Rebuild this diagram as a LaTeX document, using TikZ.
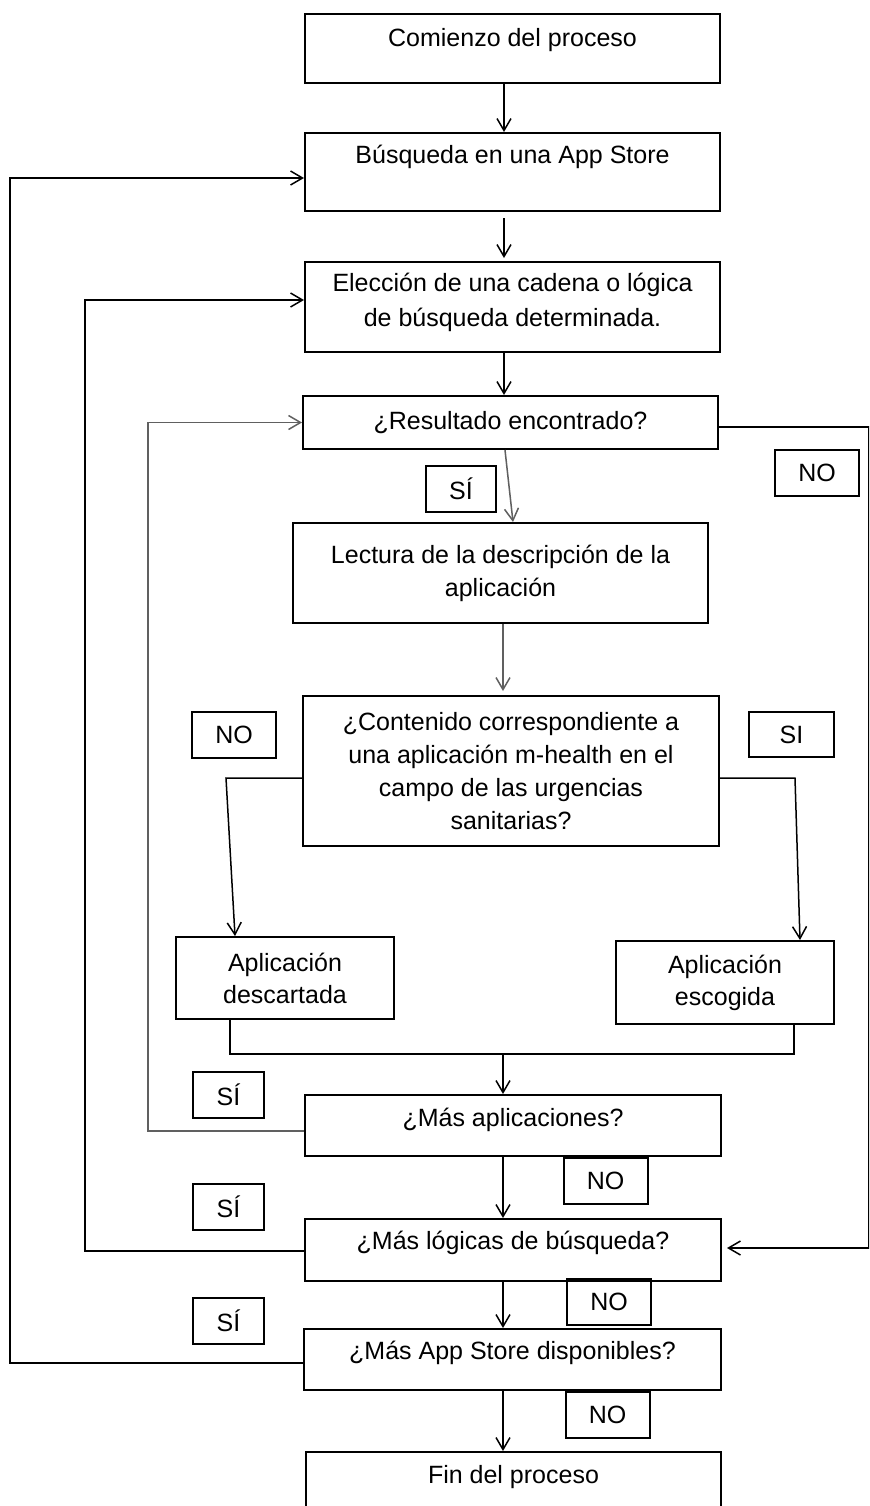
\documentclass[tikz,border=0pt]{standalone}
\usepackage{fontspec}
\setmainfont{Liberation Sans}
\usetikzlibrary{arrows.meta}
\begin{document}
\begin{tikzpicture}[x=0.5pt,y=-0.5pt,
	box/.style={draw,line width=1pt,minimum width=208pt,align=center,font=\fontsize{12.5}{16.5}\selectfont},
	tag/.style={draw,line width=1pt,minimum width=42pt,minimum height=23pt,inner sep=0pt,font=\fontsize{12.5}{15}\selectfont},
	link/.style={line width=0.75pt},
	arr/.style={link,-{Straight Barb[length=6pt,width=7pt]}},
	pale/.style={gray!75!black}]%DIAGRAMA DE BUSQUEDA
		\useasboundingbox (0,0) rectangle (869,1506);
		\clip (0,0) rectangle (869,1506);
		\node[box,minimum width=207.5pt,minimum height=34.5pt,text depth=11pt] (start) at (512.5,48.5) {Comienzo del proceso};
		\node[box,minimum width=207.5pt,minimum height=39pt,text depth=17.5pt] (search) at (512.5,172) {Búsqueda en una App Store};
		\node[box,minimum width=207.5pt,minimum height=45pt,text depth=7pt,font=\fontsize{12.5}{17.5}\selectfont] (choice) at (512.5,307) {Elección de una cadena o lógica\\de búsqueda determinada.};
		\node[box,minimum width=207.5pt,minimum height=26.5pt] (found) at (510.5,422.5) {¿Resultado encontrado?};
		\node[box,minimum width=207.5pt,minimum height=50pt] (read) at (500.5,573) {Lectura de la descripción de la\\aplicación};
		\node[box,minimum height=75pt] (content) at (511,771) {¿Contenido correspondiente a\\una aplicación m-health en el\\campo de las urgencias\\sanitarias?};
		\node[box,minimum width=109pt,minimum height=41pt,font=\fontsize{12.5}{16}\selectfont] (disc) at (285,978) {Aplicación\\descartada};
		\node[box,minimum width=109pt,minimum height=41.5pt,font=\fontsize{12.5}{16}\selectfont] (chosen) at (725,982.5) {Aplicación\\escogida};
		\node[box,minimum height=30.5pt,text depth=8pt] (moreapps) at (513,1125.5) {¿Más aplicaciones?};
		\node[box,minimum height=31pt,text depth=9.5pt] (morelogic) at (513,1250) {¿Más lógicas de búsqueda?};
		\node[box,minimum width=208.5pt,minimum height=30.5pt,text depth=9pt] (morestore) at (512.5,1359.5) {¿Más App Store disponibles?};
		\node[box,minimum width=207.5pt,minimum height=50pt,text depth=27.5pt] (finish) at (513.5,1502) {Fin del proceso};
		\coordinate (axis) at (504,0);
		\coordinate (join) at (503,1054);
		% etiquetas SI / NO
		\node[tag,minimum width=35pt] (yesfound) at (461,489) {SÍ};
		\node[tag,minimum width=42.5pt,minimum height=22.5pt] (yescontent) at (791.5,734.5) {SI};
		\foreach \n/\x/\y in {nofound/817/472.5,nocontent/234/735,noapps/605.5/1181,nologic/609/1301.5,nostore/607.5/1414.5}
		\node[tag] (\n) at (\x,\y) {NO};
		\foreach \n/\y in {yesapps/1094.5,yeslogic/1207,yesstore/1320.5}
		\node[tag,minimum width=35.5pt] (\n) at (228.5,\y) {SÍ};
		% flechas
		\draw[arr] (start.south -| axis) -- (search.north -| axis);
		\draw[arr,shorten <=3pt,shorten >=1.5pt] (search.south -| axis) -- (choice.north -| axis);
		\draw[arr] (choice.south -| axis) -- (found.north -| axis);
		\draw[arr,pale] ([xshift=-2.75pt]found.south) -- ([xshift=6.25pt]read.north);
		\draw[arr,pale,shorten >=2pt] (read.south -| join) -- (content.north -| join);
		\draw[arr] ([yshift=-3.5pt]content.west) -- ++(-76,0) -- ([xshift=-25pt]disc.north);
		\draw[arr] ([yshift=-3.5pt]content.east) -- ++(75,0) -- ([xshift=37.5pt]chosen.north);
		\draw[link] ([xshift=-27.5pt]disc.south) |- (join) -| ([xshift=34.5pt]chosen.south);
		\draw[arr] (join) -- (join |- moreapps.north);
		\draw[arr] (moreapps.south -| join) -- (morelogic.north -| join);
		\draw[arr] (morelogic.south -| join) -- (morestore.north -| join);
		\draw[arr] (morestore.south -| join) -- (finish.north -| join);
		\draw[arr,pale] ([yshift=-2.75pt]moreapps.west) -- ++(-156,0) |- (found.west);
		\draw[arr] ([yshift=-0.5pt]morelogic.west) -- ++(-219,0) |- ([yshift=3.5pt]choice.west);
		\draw[arr] ([yshift=-1.75pt]morestore.west) -- ++(-293,0) |- ([yshift=-3pt]search.west);
		\draw[arr,shorten >=2.5pt] ([yshift=-2.25pt]found.east) -- ++(150,0) |- ([yshift=1pt]morelogic.east);
\end{tikzpicture}
\end{document}
